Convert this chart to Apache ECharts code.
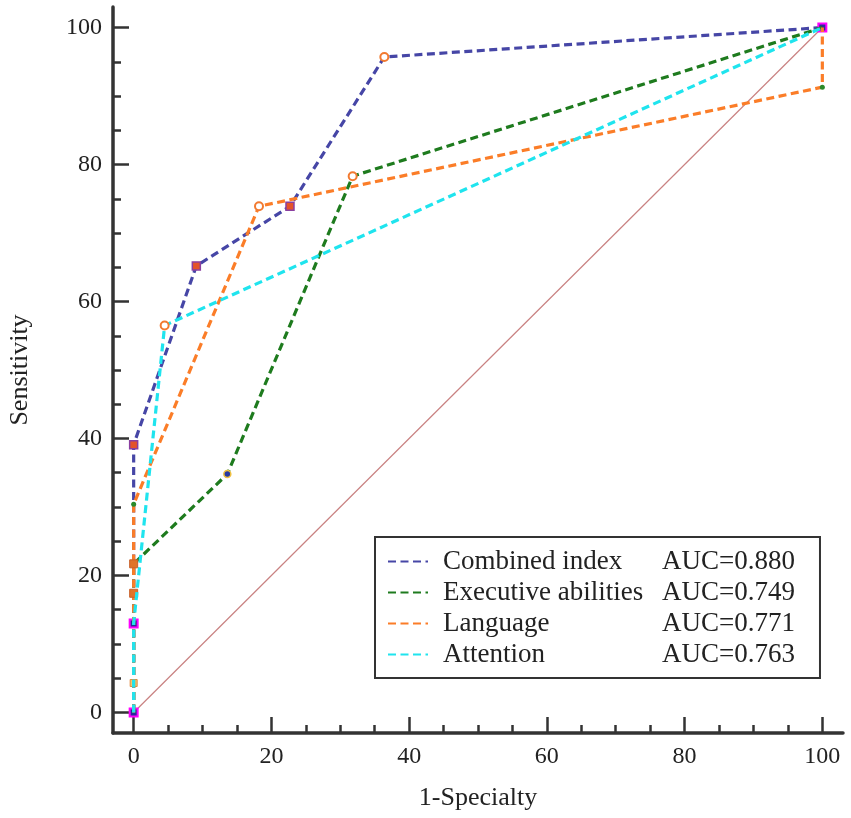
<!DOCTYPE html>
<html>
<head>
    <meta charset="utf-8"/>
    <title>ROC curves</title>
    <script src="https://cdn.jsdelivr.net/npm/echarts@6/dist/echarts.min.js"></script>
    <style>
        html, body { margin: 0; padding: 0; background: #fff; }
        #chart { width: 851px; height: 818px; }
    </style>
</head>
<body>
<div id="chart"></div>
<script>
// ---- data: [1-specialty, sensitivity] ----
var seriesNames = ["Combined index", "Executive abilities", "Language", "Attention"];
var aucValues = ["0.880", "0.749", "0.771", "0.763"];

var combinedPoints  = [[0, 0], [0, 13.0], [0, 39.1], [9.1, 65.2], [22.7, 73.9], [36.4, 95.7], [100, 100]];
var executivePoints = [[0, 0], [0, 4.3], [0, 21.7], [13.6, 34.8], [31.8, 78.3], [100, 100]];
var languagePoints  = [[0, 0], [0, 17.4], [0, 21.7], [0, 30.4], [18.2, 73.9], [100, 91.3], [100, 100]];
var attentionPoints = [[0, 0], [0, 13.0], [4.5, 56.5], [100, 100]];
var diagonalPoints  = [[0, 0], [100, 100]];

var labelTicks = [0, 20, 40, 60, 80, 100];
var minorTicks = [5, 10, 15, 25, 30, 35, 45, 50, 55, 65, 70, 75, 85, 90, 95];

// marker kind for each point (same order as the points above)
var combinedMarks  = ["mg", "mg", "sq", "sq", "sq", "o", "mg"];
var executiveMarks = ["", "ysq", "", "ring", "o", ""];
var languageMarks  = ["", "osq", "osq", "dot", "o", "dot", ""];
var attentionMarks = ["", "", "o", ""];

var colors = ["#4646a6", "#1e7b1e", "#fb7d28", "#1fe4ee"];
var FONT = "Liberation Serif";

var markStyles = {
    mg:   { symbol: "rect",   symbolSize: 8, itemStyle: { color: "#2a2a9a", borderColor: "#ff00ff", borderWidth: 2 } },
    sq:   { symbol: "rect",   symbolSize: 8, itemStyle: { color: "#e4532a", borderColor: "#8a3fa0", borderWidth: 1.5 } },
    o:    { symbol: "circle", symbolSize: 8, itemStyle: { color: "#ffffff", borderColor: "#f27a30", borderWidth: 2 } },
    ring: { symbol: "circle", symbolSize: 7, itemStyle: { color: "#2a3aa0", borderColor: "#f0c040", borderWidth: 1.5 } },
    ysq:  { symbol: "rect",   symbolSize: 7, itemStyle: { color: "#f2c66a", borderColor: "#e08a40", borderWidth: 1 } },
    osq:  { symbol: "rect",   symbolSize: 8, itemStyle: { color: "#e07428", borderColor: "#c8602a", borderWidth: 1 } },
    dot:  { symbol: "circle", symbolSize: 5, itemStyle: { color: "#2a8a2a", borderWidth: 0 } }
};

function buildData(points, marks) {
    return points.map(function (p, i) {
        var item = { value: p, symbol: "none" };
        var m = markStyles[marks[i]];
        if (m) {
            item.symbol = m.symbol;
            item.symbolSize = m.symbolSize;
            item.itemStyle = m.itemStyle;
        }
        return item;
    });
}

function rocSeries(idx, points, marks) {
    return {
        name: seriesNames[idx],
        type: "line",
        xAxisIndex: 0,
        yAxisIndex: 0,
        data: buildData(points, marks),
        symbol: "none",
        showAllSymbol: true,
        lineStyle: { color: colors[idx], width: 3.2, type: [8, 4.5] },
        itemStyle: { color: colors[idx] },
        animation: false,
        z: 3 + idx
    };
}

function valueAxis(isX, minor) {
    var ax = {
        type: "value",
        position: isX ? "bottom" : "left",
        min: -3,
        max: 103,
        axisLine: { show: !minor, onZero: false, lineStyle: { color: "#333", width: 3.5 } },
        axisTick: {
            show: true,
            inside: true,
            customValues: minor ? minorTicks : labelTicks,
            length: minor ? 8 : 16,
            lineStyle: { color: "#333", width: 2.5 }
        },
        axisLabel: {
            show: !minor,
            customValues: labelTicks,
            fontFamily: FONT,
            fontSize: 24,
            color: "#222",
            margin: isX ? 12 : 11
        },
        splitLine: { show: false }
    };
    if (!minor) {
        ax.name = isX ? "1-Specialty" : "Sensitivity";
        ax.nameLocation = "middle";
        ax.nameGap = isX ? 52 : 80;
        ax.nameTextStyle = { fontFamily: FONT, fontSize: 26, color: "#222" };
    }
    return ax;
}

var chart = echarts.init(document.getElementById("chart"));

var option = {
    backgroundColor: "#ffffff",
    animation: false,
    grid: { left: 113, right: 8, top: 7, bottom: 85, containLabel: false, outerBoundsMode: "none" },
    xAxis: [valueAxis(true, false), valueAxis(true, true)],
    yAxis: [valueAxis(false, false), valueAxis(false, true)],
    legend: {
        data: seriesNames,
        orient: "vertical",
        left: 375,
        top: 537,
        width: 447,
        padding: [11, 25, 10, 12],
        itemWidth: 40,
        itemHeight: 14,
        itemGap: 4,
        borderColor: "#333",
        borderWidth: 2,
        backgroundColor: "#fff",
        selectedMode: false,
        itemStyle: { opacity: 0 },
        formatter: function (name) {
            var i = seriesNames.indexOf(name);
            return "{n|" + name + "}{a|AUC=" + aucValues[i] + "}";
        },
        textStyle: {
            fontFamily: FONT,
            fontSize: 27,
            color: "#222",
            rich: {
                n: { fontFamily: FONT, fontSize: 27, color: "#222", width: 219, padding: [0, 0, 0, 10], lineHeight: 27 },
                a: { fontFamily: FONT, fontSize: 27, color: "#222", lineHeight: 27 }
            }
        }
    },
    series: [
        {
            name: "diagonal",
            type: "line",
            data: diagonalPoints,
            symbol: "none",
            lineStyle: { color: "#c98282", width: 1.2 },
            itemStyle: { color: "#c98282" },
            silent: true,
            z: 2
        },
        rocSeries(0, combinedPoints, combinedMarks),
        rocSeries(1, executivePoints, executiveMarks),
        rocSeries(2, languagePoints, languageMarks),
        rocSeries(3, attentionPoints, attentionMarks)
    ]
};

chart.setOption(option);
</script>
</body>
</html>
